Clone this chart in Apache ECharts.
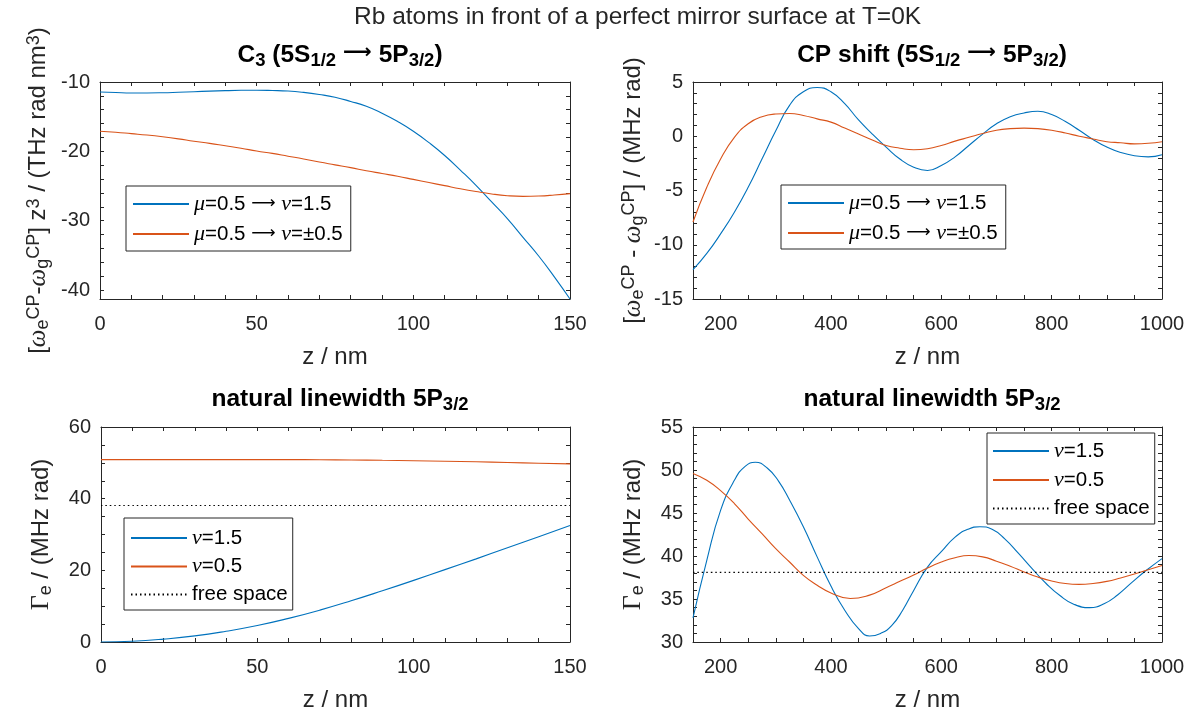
<!DOCTYPE html>
<html><head><meta charset="utf-8">
<script src="https://cdn.jsdelivr.net/npm/echarts@6/dist/echarts.min.js"></script>
<style>html,body{margin:0;padding:0;background:#fff}#c{width:1202px;height:715px}</style>
</head><body><div id="c"></div>
<script>
// ---- data ----
const zC3 = [0,5,10,15,20,25,30,35,40,45,50,55,60,65,70,75,80,85,90,95,100,105,110,115,120,125,130,135,140,145,150];
const c3Nu15 = [-11.44,-11.52,-11.58,-11.58,-11.55,-11.48,-11.4,-11.32,-11.25,-11.2,-11.18,-11.22,-11.3,-11.5,-11.8,-12.2,-12.8,-13.5,-14.5,-15.7,-17.1,-18.75,-20.6,-22.7,-24.9,-27.3,-29.7,-32.4,-35.1,-38.1,-41.3];
const c3NuPm05 = [-17.1,-17.25,-17.45,-17.65,-17.9,-18.2,-18.55,-18.85,-19.2,-19.55,-19.95,-20.3,-20.7,-21.1,-21.55,-21.95,-22.35,-22.8,-23.2,-23.6,-24.05,-24.5,-24.95,-25.4,-25.8,-26.15,-26.4,-26.5,-26.45,-26.3,-26.1];

const zShift = [150,175,200,225,250,275,300,325,350,375,400,425,450,475,500,525,550,575,600,625,650,675,700,725,750,775,800,825,850,875,900,925,950,975,1000];
const shiftNu15 = [-12.3,-10.8,-9.0,-7.0,-4.7,-2.1,0.5,2.85,4.1,4.5,4.1,3.0,1.5,0.2,-1.0,-2.1,-2.85,-3.15,-2.7,-1.9,-0.85,0.2,1.15,1.8,2.15,2.3,2.0,1.35,0.55,-0.3,-1.0,-1.5,-1.8,-1.9,-1.7];
const shiftNuPm05 = [-7.9,-4.7,-2.1,-0.1,1.15,1.8,2.05,2.1,1.92,1.6,1.3,0.75,0.2,-0.35,-0.85,-1.1,-1.25,-1.15,-0.85,-0.45,-0.1,0.25,0.55,0.7,0.75,0.7,0.55,0.3,0.0,-0.25,-0.5,-0.6,-0.7,-0.65,-0.5];

const zNear = [0,10,20,30,40,50,60,70,80,90,100,110,120,130,140,150];
const gammaNearNu15 = [0,0.2,0.8,1.7,3.0,4.6,6.6,8.9,11.5,14.3,17.2,20.2,23.2,26.3,29.4,32.5];
const gammaNearNu05 = [50.9,50.9,50.9,50.9,50.9,50.9,50.9,50.85,50.8,50.7,50.6,50.45,50.3,50.1,49.9,49.7];

const zFarNu15 = [150,175,200,225,245,263,285,305,325,350,375,400,425,450,470,490,510,530,550,575,600,625,648,670,692,715,740,765,790,815,840,869,895,920,945,970,1000];
const gammaFarNu15 = [32.8,39.5,45.3,48.8,50.45,50.9,50.2,48.7,46.5,43.4,39.9,36.5,33.7,31.55,30.7,31.0,31.9,33.7,36.0,38.7,40.5,42.2,43.1,43.4,43.1,42.0,40.3,38.5,36.8,35.4,34.4,34.0,34.45,35.5,36.9,38.25,39.7];
const zFarNu05 = [150,175,200,225,250,275,300,325,350,375,400,435,470,500,525,550,575,600,625,650,675,700,725,750,775,800,825,850,875,900,925,950,975,1000];
const gammaFarNu05 = [49.6,48.8,47.6,46.1,44.3,42.6,40.85,39.3,37.75,36.6,35.7,35.05,35.45,36.3,37.05,37.8,38.6,39.3,39.8,40.05,39.9,39.4,38.8,38.15,37.55,37.1,36.8,36.7,36.8,37.05,37.45,37.9,38.4,38.9];

const freeSpace = 38.1;

// tick labels
const xLabelsNear = [0, 50, 100, 150];
const xLabelsFar = [200, 400, 600, 800, 1000];
const yLabelsC3 = [-40, -30, -20, -10];
const yLabelsShift = [-15, -10, -5, 0, 5];
const yLabelsGammaNear = [0, 20, 40, 60];
const yLabelsGammaFar = [30, 35, 40, 45, 50, 55];

// ---- styling ----
const BLUE = '#0072BD', ORANGE = '#D95319', AX = '#262626';
const FONT = '"Liberation Sans", Arial, Helvetica, sans-serif';
const SERIF = '"Liberation Serif", "Times New Roman", serif';
const ARROWFONT = '"DejaVu Sans", sans-serif';

function steps(a, b, s) { const out = []; for (let v = a; v <= b + 1e-9; v += s) out.push(Math.round(v * 1000) / 1000); return out; }

const grids = [
  {left: 100, top: 82, width: 470, height: 217},
  {left: 693, top: 82, width: 469, height: 217},
  {left: 101, top: 427, width: 469, height: 215},
  {left: 693, top: 427, width: 469, height: 215}
];

const nameRich = {
  m: {fontSize: 24, fontFamily: FONT, color: AX, lineHeight: 27, verticalAlign: 'middle'},
  w: {fontSize: 25, fontFamily: SERIF, fontStyle: 'italic', color: AX, lineHeight: 27, verticalAlign: 'middle'},
  G: {fontSize: 26, fontFamily: SERIF, color: AX, lineHeight: 27, verticalAlign: 'middle'},
  sub: {fontSize: 18, fontFamily: FONT, color: AX, lineHeight: 18, verticalAlign: 'bottom'},
  sup: {fontSize: 18, fontFamily: FONT, color: AX, lineHeight: 18, verticalAlign: 'top'}
};

const xAxes = [], yAxes = [];
function addAxes(g, xr, xTicks, xLabels, yr, yTicks, yLabels, yName, yNameGap) {
  const tickX = {show: true, inside: true, length: 4, customValues: xTicks, lineStyle: {color: AX, width: 1}};
  const tickY = {show: true, inside: true, length: 4, customValues: yTicks, lineStyle: {color: AX, width: 1}};
  const line = {show: true, onZero: false, lineStyle: {color: AX, width: 1}};
  xAxes.push({gridIndex: g, type: 'value', position: 'bottom', min: xr[0], max: xr[1],
    axisLine: line, axisTick: tickX, splitLine: {show: false},
    axisLabel: {color: AX, fontSize: 20, fontFamily: FONT, margin: 15, customValues: xLabels, formatter: v => String(v)},
    name: 'z / nm', nameLocation: 'middle', nameGap: 46,
    nameTextStyle: {color: AX, fontSize: 24, fontFamily: FONT}});
  xAxes.push({gridIndex: g, type: 'value', position: 'top', min: xr[0], max: xr[1],
    axisLine: line, axisTick: tickX, splitLine: {show: false}, axisLabel: {show: false}});
  yAxes.push({gridIndex: g, type: 'value', position: 'left', min: yr[0], max: yr[1],
    axisLine: line, axisTick: tickY, splitLine: {show: false},
    axisLabel: {color: AX, fontSize: 20, fontFamily: FONT, margin: 10, customValues: yLabels, formatter: v => String(v)},
    name: yName, nameLocation: 'middle', nameGap: yNameGap, nameRotate: 90,
    nameTextStyle: {color: AX, fontSize: 24, fontFamily: FONT, rich: nameRich}});
  yAxes.push({gridIndex: g, type: 'value', position: 'right', min: yr[0], max: yr[1],
    axisLine: line, axisTick: tickY, splitLine: {show: false}, axisLabel: {show: false}});
}

addAxes(0, [0, 150], steps(0, 150, 10), xLabelsNear, [-41.3, -10], steps(-40, -10, 2), yLabelsC3,
  '{m|[}{w|ω}{sub|e}{sup|CP}{m|-}{w|ω}{sub|g}{sup|CP}{m|] z}{sup|3}{m| / (THz rad nm}{sup|3}{m|)}', 48);
addAxes(1, [150, 1000], steps(150, 1000, 50), xLabelsFar, [-15, 5], steps(-15, 5, 1), yLabelsShift,
  '{m|[}{w|ω}{sub|e}{sup|CP}{m| - }{w|ω}{sub|g}{sup|CP}{m|] / (MHz rad)}', 46);
addAxes(2, [0, 150], steps(0, 150, 10), xLabelsNear, [0, 60], steps(0, 60, 5), yLabelsGammaNear,
  '{G|Γ}{sub|e}{m| / (MHz rad)}', 46);
addAxes(3, [150, 1000], steps(150, 1000, 50), xLabelsFar, [30, 55], steps(30, 55, 1), yLabelsGammaFar,
  '{G|Γ}{sub|e}{m| / (MHz rad)}', 46);

function pairs(xs, ys) { return xs.map((x, i) => [x, ys[i]]); }
function lineSeries(name, g, xs, ys, color, type) {
  return {name, type: 'line', xAxisIndex: 2 * g, yAxisIndex: 2 * g, data: pairs(xs, ys),
    symbol: 'none', smooth: 0.5,
    lineStyle: {color, width: 1.1, type: type || 'solid'}, itemStyle: {color},
    emphasis: {disabled: true}, silent: true};
}
const series = [
  lineSeries('c3_15', 0, zC3, c3Nu15, BLUE),
  lineSeries('c3_05', 0, zC3, c3NuPm05, ORANGE),
  lineSeries('sh_15', 1, zShift, shiftNu15, BLUE),
  lineSeries('sh_05', 1, zShift, shiftNuPm05, ORANGE),
  lineSeries('gn_15', 2, zNear, gammaNearNu15, BLUE),
  lineSeries('gn_05', 2, zNear, gammaNearNu05, ORANGE),
  lineSeries('gn_fs', 2, [zNear[0], zNear[zNear.length - 1]], [freeSpace, freeSpace], '#000', [1.5, 3]),
  lineSeries('gf_15', 3, zFarNu15, gammaFarNu15, BLUE),
  lineSeries('gf_05', 3, zFarNu05, gammaFarNu05, ORANGE),
  lineSeries('gf_fs', 3, [zFarNu15[0], zFarNu15[zFarNu15.length - 1]], [freeSpace, freeSpace], '#000', [1.5, 3])
];

const legendText = {
  c3_15: '{g|μ}=0.5 {a|⟶} {g|ν}=1.5', c3_05: '{g|μ}=0.5 {a|⟶} {g|ν}=±0.5',
  sh_15: '{g|μ}=0.5 {a|⟶} {g|ν}=1.5', sh_05: '{g|μ}=0.5 {a|⟶} {g|ν}=±0.5',
  gn_15: '{g|ν}=1.5', gn_05: '{g|ν}=0.5', gn_fs: 'free space',
  gf_15: '{g|ν}=1.5', gf_05: '{g|ν}=0.5', gf_fs: 'free space'
};
function legend(names, left, top, gap, pad) {
  return {data: names, left, top, orient: 'vertical', selectedMode: false,
    borderColor: AX, borderWidth: 1, borderRadius: 0, backgroundColor: '#fff',
    padding: pad, itemGap: gap, itemWidth: 56, itemHeight: 12,
    itemStyle: {opacity: 0},
    formatter: n => legendText[n],
    textStyle: {color: '#000', fontSize: 20.5, fontFamily: FONT, lineHeight: 20,
      rich: {g: {fontSize: 22, fontFamily: SERIF, fontStyle: 'italic', color: '#000', lineHeight: 20},
             a: {fontSize: 17, fontFamily: ARROWFONT, color: '#000', lineHeight: 20}}}};
}
const legends = [
  legend(['c3_15', 'c3_05'], 126, 186, 8, [7, 8, 6, 6]),
  legend(['sh_15', 'sh_05'], 781, 185, 8, [7, 8, 5, 6]),
  legend(['gn_15', 'gn_05', 'gn_fs'], 124, 518, 6.5, [9, 5, 5, 6]),
  legend(['gf_15', 'gf_05', 'gf_fs'], 987, 433, 7, [7, 5, 5, 5])
];

const tRich = {
  b: {fontSize: 24.5, fontWeight: 'bold', fontFamily: FONT, color: '#000', lineHeight: 27, verticalAlign: 'top'},
  a: {fontSize: 20, fontFamily: ARROWFONT, color: '#000', lineHeight: 27, verticalAlign: 'top'},
  s: {fontSize: 18.5, fontWeight: 'bold', fontFamily: FONT, color: '#000', lineHeight: 17, verticalAlign: 'bottom'}
};
function subTitle(text, cx, top) {
  return {text, left: cx, top, textAlign: 'center', textStyle: {rich: tRich, fontSize: 24, lineHeight: 35}};
}
const titles = [
  {text: 'Rb atoms in front of a perfect mirror surface at T=0K', left: 349, top: 0,
    textStyle: {fontSize: 24.5, fontWeight: 'normal', fontFamily: FONT, color: AX}},
  subTitle('{b|C}{s|3}{b| (5S}{s|1/2}{a| ⟶ }{b|5P}{s|3/2}{b|)}', 335, 38),
  subTitle('{b|CP shift (5S}{s|1/2}{a| ⟶ }{b|5P}{s|3/2}{b|)}', 927, 38),
  subTitle('{b|natural linewidth 5P}{s|3/2}', 335, 382),
  subTitle('{b|natural linewidth 5P}{s|3/2}', 927, 382)
];

const chart = echarts.init(document.getElementById('c'), null, {renderer: 'canvas'});
chart.setOption({
  animation: false,
  backgroundColor: '#fff',
  title: titles,
  grid: grids,
  xAxis: xAxes,
  yAxis: yAxes,
  legend: legends,
  series
});
</script>
</body></html>
